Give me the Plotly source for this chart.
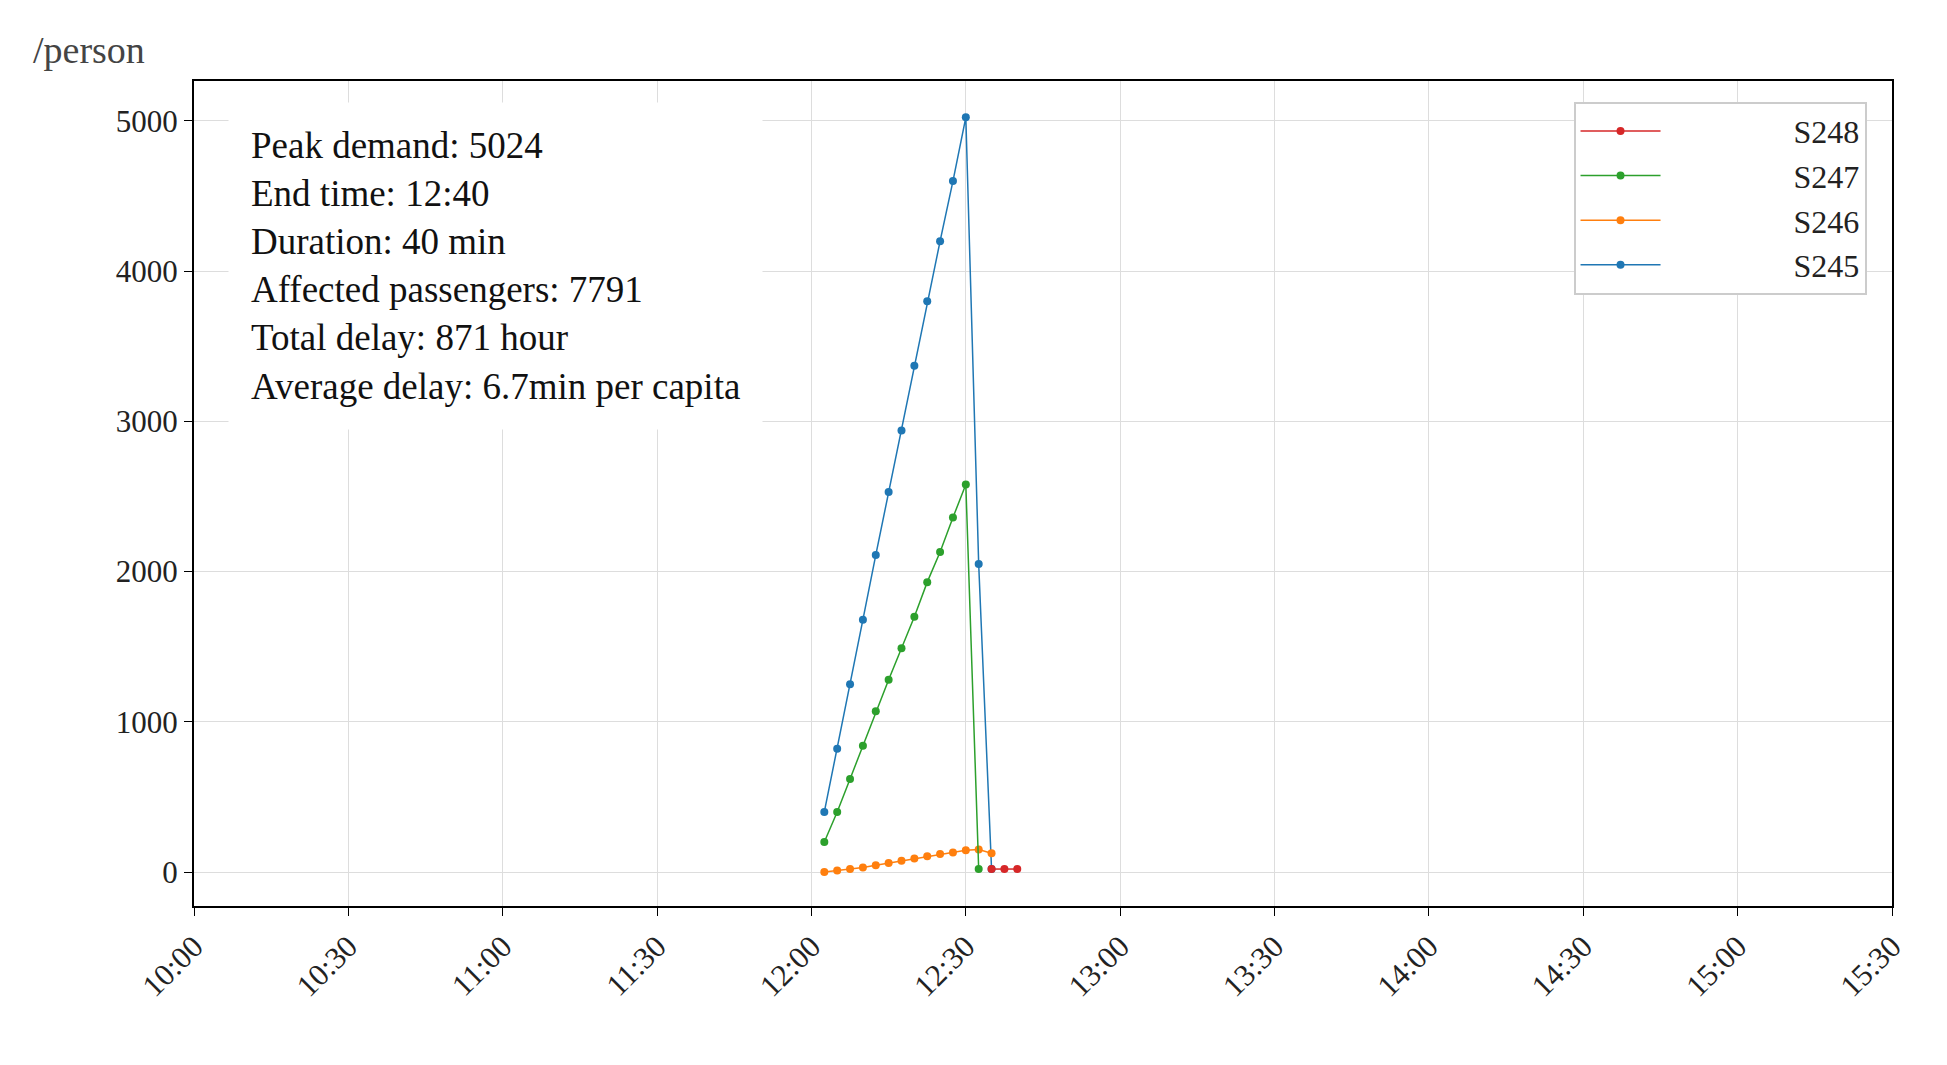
import plotly.graph_objects as go

def t(m):  # minutes after 10:00 -> datetime string
    h = 10 + int(m // 60); mm = m % 60
    s = int(round((mm - int(mm)) * 60))
    return f"2020-01-01 {h:02d}:{int(mm):02d}:{s:02d}"

blue_min = [122.5,125,127.5,130,132.5,135,137.5,140,142.5,145,147.5,150,152.5,155]
blue_val = [400,820,1250,1680,2110,2530,2940,3370,3800,4200,4600,5024,2050,20]
green_min = [122.5,125,127.5,130,132.5,135,137.5,140,142.5,145,147.5,150,152.5]
green_val = [200,400,620,840,1070,1280,1490,1700,1930,2130,2360,2580,20]
orange_min = [122.5,125,127.5,130,132.5,135,137.5,140,142.5,145,147.5,150,152.5,155]
orange_val = [0,10,20,30,45,60,75,90,105,120,130,145,150,125]
red_min = [155,157.5,160]
red_val = [20,20,20]
tick_labels = ["10:00","10:30","11:00","11:30","12:00","12:30","13:00","13:30","14:00","14:30","15:00","15:30"]
tick_min = [i*30 for i in range(12)]
y_ticks = [0,1000,2000,3000,4000,5000]
info = ["Peak demand: 5024","End time: 12:40","Duration: 40 min","Affected passengers: 7791",
        "Total delay: 871 hour","Average delay: 6.7min per capita"]

fig = go.Figure()
series = [("S248", red_min, red_val, "#d62728"), ("S247", green_min, green_val, "#2ca02c"),
          ("S246", orange_min, orange_val, "#ff7f0e"), ("S245", blue_min, blue_val, "#1f77b4")]
pad = "\u00a0" * 16
for name, xm, yv, c in reversed(series):
    fig.add_trace(go.Scatter(x=[t(m) for m in xm], y=yv, name=pad + name, mode="lines+markers",
                             line=dict(color=c, width=1.5), marker=dict(color=c, size=8)))

font = "Liberation Serif"
fig.update_layout(
    width=1947, height=1065, paper_bgcolor="white", plot_bgcolor="white",
    margin=dict(l=186, r=63, t=73, b=167),
    font=dict(family=font, size=30, color="#222"),
    showlegend=True,
    legend=dict(x=0.985, y=0.975, xanchor="right", yanchor="top", traceorder="reversed",
                bgcolor="white", bordercolor="#ccc", borderwidth=2, font=dict(size=32),
                itemwidth=80, tracegroupgap=4),
)
fig.update_xaxes(type="date", range=[t(0), t(330)], tickvals=[t(m) for m in tick_min],
                 ticktext=tick_labels, tickangle=-45, showgrid=True, gridcolor="#dddddd",
                 showline=True, linecolor="black", linewidth=2, mirror=True,
                 ticks="outside", ticklen=8, tickcolor="black", tickfont=dict(size=31))
fig.update_yaxes(range=[-226, 5266], tickvals=y_ticks, showgrid=True, gridcolor="#dddddd",
                 zeroline=False, showline=True, linecolor="black", linewidth=2, mirror=True,
                 ticks="outside", ticklen=8, tickcolor="black", tickfont=dict(size=31))
fig.add_annotation(xref="paper", yref="paper", x=-0.096, y=1.01, yanchor="bottom", xanchor="left",
                   text="/person", showarrow=False, font=dict(size=38, color="#444"))
fig.add_annotation(xref="paper", yref="paper", x=0.02, y=0.975, xanchor="left", yanchor="top",
                   text="<br>".join(info), showarrow=False, align="left", bgcolor="white",
                   borderpad=22, font=dict(size=37, color="#111"))
fig.write_html("out.html")
